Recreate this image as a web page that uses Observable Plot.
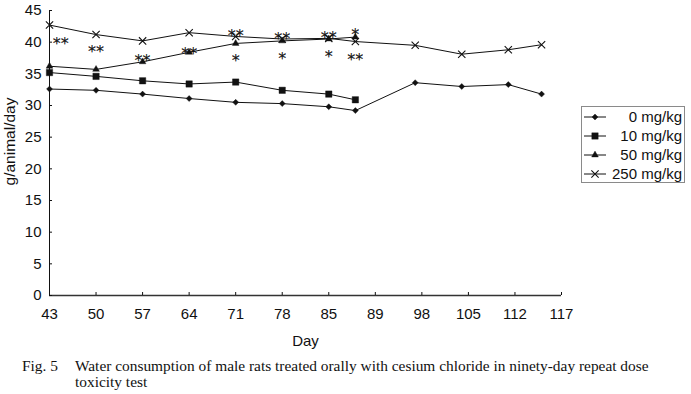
<!DOCTYPE html>
<html>
<head>
<meta charset="utf-8">
<script src="https://cdn.jsdelivr.net/npm/d3@7"></script>
<script src="https://cdn.jsdelivr.net/npm/@observablehq/plot@0.6"></script>
<style>
  html, body { margin: 0; padding: 0; background: #fff; }
  #wrap { position: relative; width: 691px; height: 394px; overflow: hidden; font-family: "Liberation Sans", Arial, sans-serif; }
  #chart { position: absolute; left: 0; top: 0; }
  #legend { position: absolute; left: 581px; top: 106px; width: 104px; height: 77px; border: 1px solid #8a8a8a; box-sizing: border-box; }
  #legend svg { display: block; }
  .cap { position: absolute; top: 358px; font-family: "Liberation Serif", "DejaVu Serif", serif; font-size: 15.4px; line-height: 16px; color: #111; white-space: nowrap; }
  #figlabel { left: 22px; }
  #captext { left: 75px; }
</style>
</head>
<body>
<div id="wrap">
  <div id="chart"></div>
  <div id="legend"></div>
  <div class="cap" id="figlabel">Fig. 5</div>
  <div class="cap" id="captext">Water consumption of male rats treated orally with cesium chloride in ninety-day repeat dose<br>toxicity test</div>
</div>
<script>
// ---- data ----
const days = [43, 50, 57, 64, 71, 78, 85, 89, 98, 105, 112, 117];
const tickPositions = [43, 50, 57, 64, 71, 78, 85, 92, 99, 106, 113, 120];
const tickLabels = ["43", "50", "57", "64", "71", "78", "85", "89", "98", "105", "112", "117"];
const yTicks = [0, 5, 10, 15, 20, 25, 30, 35, 40, 45];
const seriesNames = ["0 mg/kg", "10 mg/kg", "50 mg/kg", "250 mg/kg"];
const dose0 = [32.6, 32.4, 31.8, 31.1, 30.5, 30.3, 29.8, 29.2, 33.6, 33.0, 33.3, 31.8];
const dose10 = [35.2, 34.6, 33.9, 33.4, 33.7, 32.4, 31.8, 30.9];
const dose50 = [36.2, 35.7, 36.9, 38.4, 39.8, 40.2, 40.5, 40.8];
const dose250 = [42.7, 41.2, 40.2, 41.5, 40.9, 40.5, 40.6, 40.1, 39.5, 38.1, 38.8, 39.6];
const sigDay = [44.7, 50, 57, 64, 71, 71, 78, 78, 85, 85, 89, 89];
const sigValue = [40.3, 39.1, 37.6, 38.8, 41.6, 37.7, 41.2, 38.0, 41.3, 38.3, 41.8, 37.9];
const sigText = ["**", "**", "**", "**", "**", "*", "**", "*", "**", "*", "*", "**"];

const symbols = ["diamond2", "square", "triangle", "times"];
const radii = [2.7, 3.6, 2.5, 3.4];
const allValues = [dose0, dose10, dose50, dose250];

const rows = [];
allValues.forEach((vals, s) => vals.forEach((v, i) => rows.push({series: seriesNames[s], day: days[i], value: v, s})));
const sig = sigDay.map((d, i) => ({day: d, value: sigValue[i], text: sigText[i]}));

const isOpen = s => symbols[s] === "times";
const lineMarks = seriesNames.map((name, s) =>
  Plot.line(rows.filter(r => r.s === s), {x: "day", y: "value", stroke: "#111", strokeWidth: 1}));
const dotMarks = seriesNames.map((name, s) =>
  Plot.dot(rows.filter(r => r.s === s), {
    x: "day", y: "value", symbol: () => symbols[s], r: radii[s],
    fill: isOpen(s) ? "none" : "#111",
    stroke: "#111", strokeWidth: isOpen(s) ? 1.1 : 0.4
  }));

const chart = Plot.plot({
  width: 691,
  height: 350,
  marginLeft: 49,
  marginRight: 130,
  marginTop: 10,
  marginBottom: 55,
  style: {fontFamily: "'Liberation Sans', Arial, sans-serif", color: "#111", background: "transparent"},
  x: {domain: [43, 120]},
  y: {domain: [0, 45]},
  marks: [
    Plot.ruleY([0], {stroke: "#333", strokeWidth: 1.3}),
    Plot.ruleX([43], {stroke: "#111", strokeWidth: 1}),
    Plot.axisX({ticks: tickPositions, tickSize: 3, dy: -3, fill: "none", stroke: "#111"}),
    Plot.axisX({ticks: tickPositions, tickSize: 0, tickPadding: 13, tickFormat: (d, i) => tickLabels[i], fontSize: 15, label: null}),
    Plot.axisY({ticks: yTicks, tickSize: 3, dx: 3, fill: "none", stroke: "#111"}),
    Plot.axisY({ticks: yTicks, tickSize: 0, tickPadding: 8, fontSize: 15, label: null}),
    Plot.text(["Day"], {frameAnchor: "bottom", textAnchor: "middle", dy: 50, fontSize: 15, fill: "#111"}),
    Plot.text(["g/animal/day"], {frameAnchor: "left", textAnchor: "middle", lineAnchor: "middle", dx: -39, dy: -11.5, rotate: -90, fontSize: 15.5, fill: "#111"}),
    ...lineMarks,
    ...dotMarks,
    Plot.text(sig, {x: "day", y: "value", text: "text", fontSize: 16, fontFamily: "'DejaVu Sans', sans-serif", dy: 4, fill: "#111", fillOpacity: 0.99, stroke: "#111", strokeWidth: 0.2, strokeOpacity: 0.99})
  ]
});
document.getElementById("chart").appendChild(chart);

// ---- legend ----
const symbolTypes = {diamond2: d3.symbolDiamond2, square: d3.symbolSquare, triangle: d3.symbolTriangle, times: d3.symbolTimes};
const lg = d3.select("#legend").append("svg").attr("width", 102).attr("height", 75);
seriesNames.forEach((name, s) => {
  const cy = 10 + s * 19;
  lg.append("line").attr("x1", 2).attr("x2", 24).attr("y1", cy).attr("y2", cy).attr("stroke", "#111");
  const sym = d3.symbol().type(symbolTypes[symbols[s]]).size(Math.PI * radii[s] * radii[s]);
  lg.append("path").attr("d", sym()).attr("transform", `translate(13,${cy})`)
    .attr("fill", isOpen(s) ? "none" : "#111").attr("stroke", "#111").attr("stroke-width", isOpen(s) ? 1.1 : 0.4);
  lg.append("text").attr("x", 100).attr("y", cy).attr("dy", "0.35em").attr("text-anchor", "end")
    .attr("font-family", "'Liberation Sans', Arial, sans-serif").attr("font-size", 15).attr("fill", "#111").text(name);
});
</script>
</body>
</html>
